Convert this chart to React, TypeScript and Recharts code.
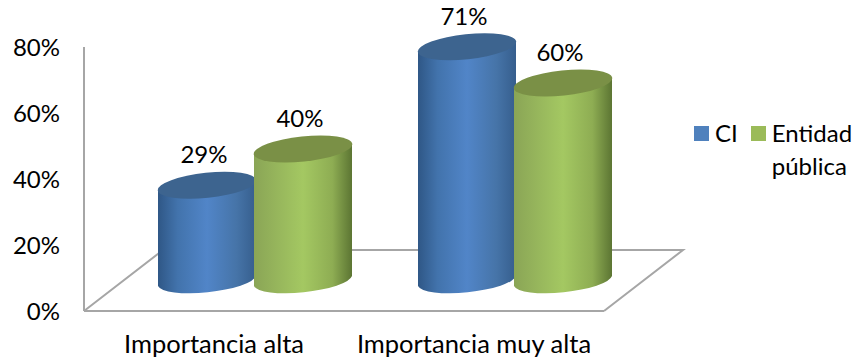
import React from "react";
import { BarChart, Bar, XAxis, YAxis, Legend, LabelList } from "recharts";

const categories = ["Importancia alta", "Importancia muy alta"];
const ciValues = [0.29, 0.71];
const entidadValues = [0.4, 0.6];
const yTicks = [0, 0.2, 0.4, 0.6, 0.8];

const rows = categories.map((name, i) => ({ name, ci: ciValues[i], entidad: entidadValues[i] }));

const FONT = "Lato, 'Open Sans', sans-serif";
const WIDTH = 855;
const HEIGHT = 360;
const PLOT = { left: 84, right: 604, top: 47, bottom: 311 };
const BACK_WALL = { dx: 79, dy: -61 };
const BAR_SHIFT = { dx: 41, dy: -30 };
const AXIS_GREY = "#A6A6A6";

// Tilted cap of the cylinder: semi-axes and rotation.
const CAP = { a: 49.5, b: 12.5, deg: -6 };

function cylinder(gradient: string, capFill: string) {
  return (props: any) => {
    const { x, y, width, height } = props;
    const cx = x + width / 2 + BAR_SHIFT.dx;
    const top = y + BAR_SHIFT.dy;
    const base = y + height + BAR_SHIFT.dy;
    const hw = width / 2;
    const drop = 5;
    const body = `M${cx - hw},${top + drop} L${cx - hw},${base + drop} A${CAP.a},${CAP.b} ${CAP.deg} 0 0 ${cx + hw},${base - drop} L${cx + hw},${top - drop} Z`;
    return (
      <g>
        <path d={body} fill={`url(#${gradient})`} />
        <ellipse cx={cx} cy={top} rx={CAP.a} ry={CAP.b} fill={capFill} transform={`rotate(${CAP.deg} ${cx} ${top})`} />
      </g>
    );
  };
}

const percent = (v: number) => `${Math.round(v * 100)}%`;

function valueLabel(props: any) {
  const { x, y, width, value } = props;
  return (
    <text x={x + width / 2 + BAR_SHIFT.dx - 3} y={y + BAR_SHIFT.dy - 22} textAnchor="middle" fontFamily={FONT} fontSize={24} fill="#000">
      {percent(value)}
    </text>
  );
}

function legendContent(props: any) {
  const items = props.payload || [];
  return (
    <div style={{ display: "flex", alignItems: "flex-start", fontFamily: FONT, fontSize: 24, lineHeight: "33px", color: "#000" }}>
      {items.map((it: any) => (
        <div key={it.value} style={{ display: "flex", alignItems: "flex-start", marginRight: 13 }}>
          <span style={{ width: 15, height: 15, background: it.color, marginTop: 10, marginRight: 6, flex: "none" }} />
          <span style={{ width: it.value.length > 4 ? 85 : "auto" }}>{it.value}</span>
        </div>
      ))}
    </div>
  );
}

export default function App() {
  const floor = `M${PLOT.left},${PLOT.bottom} L${PLOT.left + BACK_WALL.dx},${PLOT.bottom + BACK_WALL.dy} L${PLOT.right + BACK_WALL.dx},${PLOT.bottom + BACK_WALL.dy} L${PLOT.right},${PLOT.bottom}`;
  return (
    <div style={{ position: "absolute", left: 0, top: 0, width: WIDTH, height: HEIGHT }}>
      <BarChart
        width={WIDTH}
        height={HEIGHT}
        data={rows}
        margin={{ top: PLOT.top, right: WIDTH - PLOT.right, bottom: 0, left: 0 }}
        barSize={98}
        barGap={-2}
      >
        <defs>
          <linearGradient id="ciBody" x1="0" y1="0" x2="1" y2="0">
            <stop offset="0" stopColor="#2F5786" />
            <stop offset="0.2" stopColor="#4273AC" />
            <stop offset="0.5" stopColor="#5185C8" />
            <stop offset="0.8" stopColor="#4674A8" />
            <stop offset="1" stopColor="#365E8D" />
          </linearGradient>
          <linearGradient id="entidadBody" x1="0" y1="0" x2="1" y2="0">
            <stop offset="0" stopColor="#8AA556" />
            <stop offset="0.5" stopColor="#A4C862" />
            <stop offset="0.8" stopColor="#8EAD53" />
            <stop offset="1" stopColor="#5C7533" />
          </linearGradient>
        </defs>
        <path d={floor} fill="none" stroke={AXIS_GREY} strokeWidth={2} />
        <XAxis
          dataKey="name"
          height={49}
          tickLine={false}
          axisLine={{ stroke: AXIS_GREY, strokeWidth: 2 }}
          tick={{ fontFamily: FONT, fontSize: 25.5, fill: "#000" }}
          tickMargin={18}
          interval={0}
        />
        <YAxis
          width={84}
          domain={[0, 0.8]}
          ticks={yTicks}
          tickFormatter={percent}
          tickLine={false}
          axisLine={{ stroke: AXIS_GREY, strokeWidth: 2 }}
          tick={{ fontFamily: FONT, fontSize: 24, fill: "#000" }}
          tickMargin={18}
        />
        <Legend
          content={legendContent}
          layout="horizontal"
          verticalAlign="middle"
          wrapperStyle={{ position: "absolute", left: 694, top: 116, width: 165, bottom: "auto" }}
        />
        <Bar dataKey="ci" name="CI" fill="#4F81BD" isAnimationActive={false} shape={cylinder("ciBody", "#3D648F")}>
          <LabelList dataKey="ci" content={valueLabel} />
        </Bar>
        <Bar dataKey="entidad" name="Entidad pública" fill="#9BBB59" isAnimationActive={false} shape={cylinder("entidadBody", "#7A9046")}>
          <LabelList dataKey="entidad" content={valueLabel} />
        </Bar>
      </BarChart>
    </div>
  );
}
